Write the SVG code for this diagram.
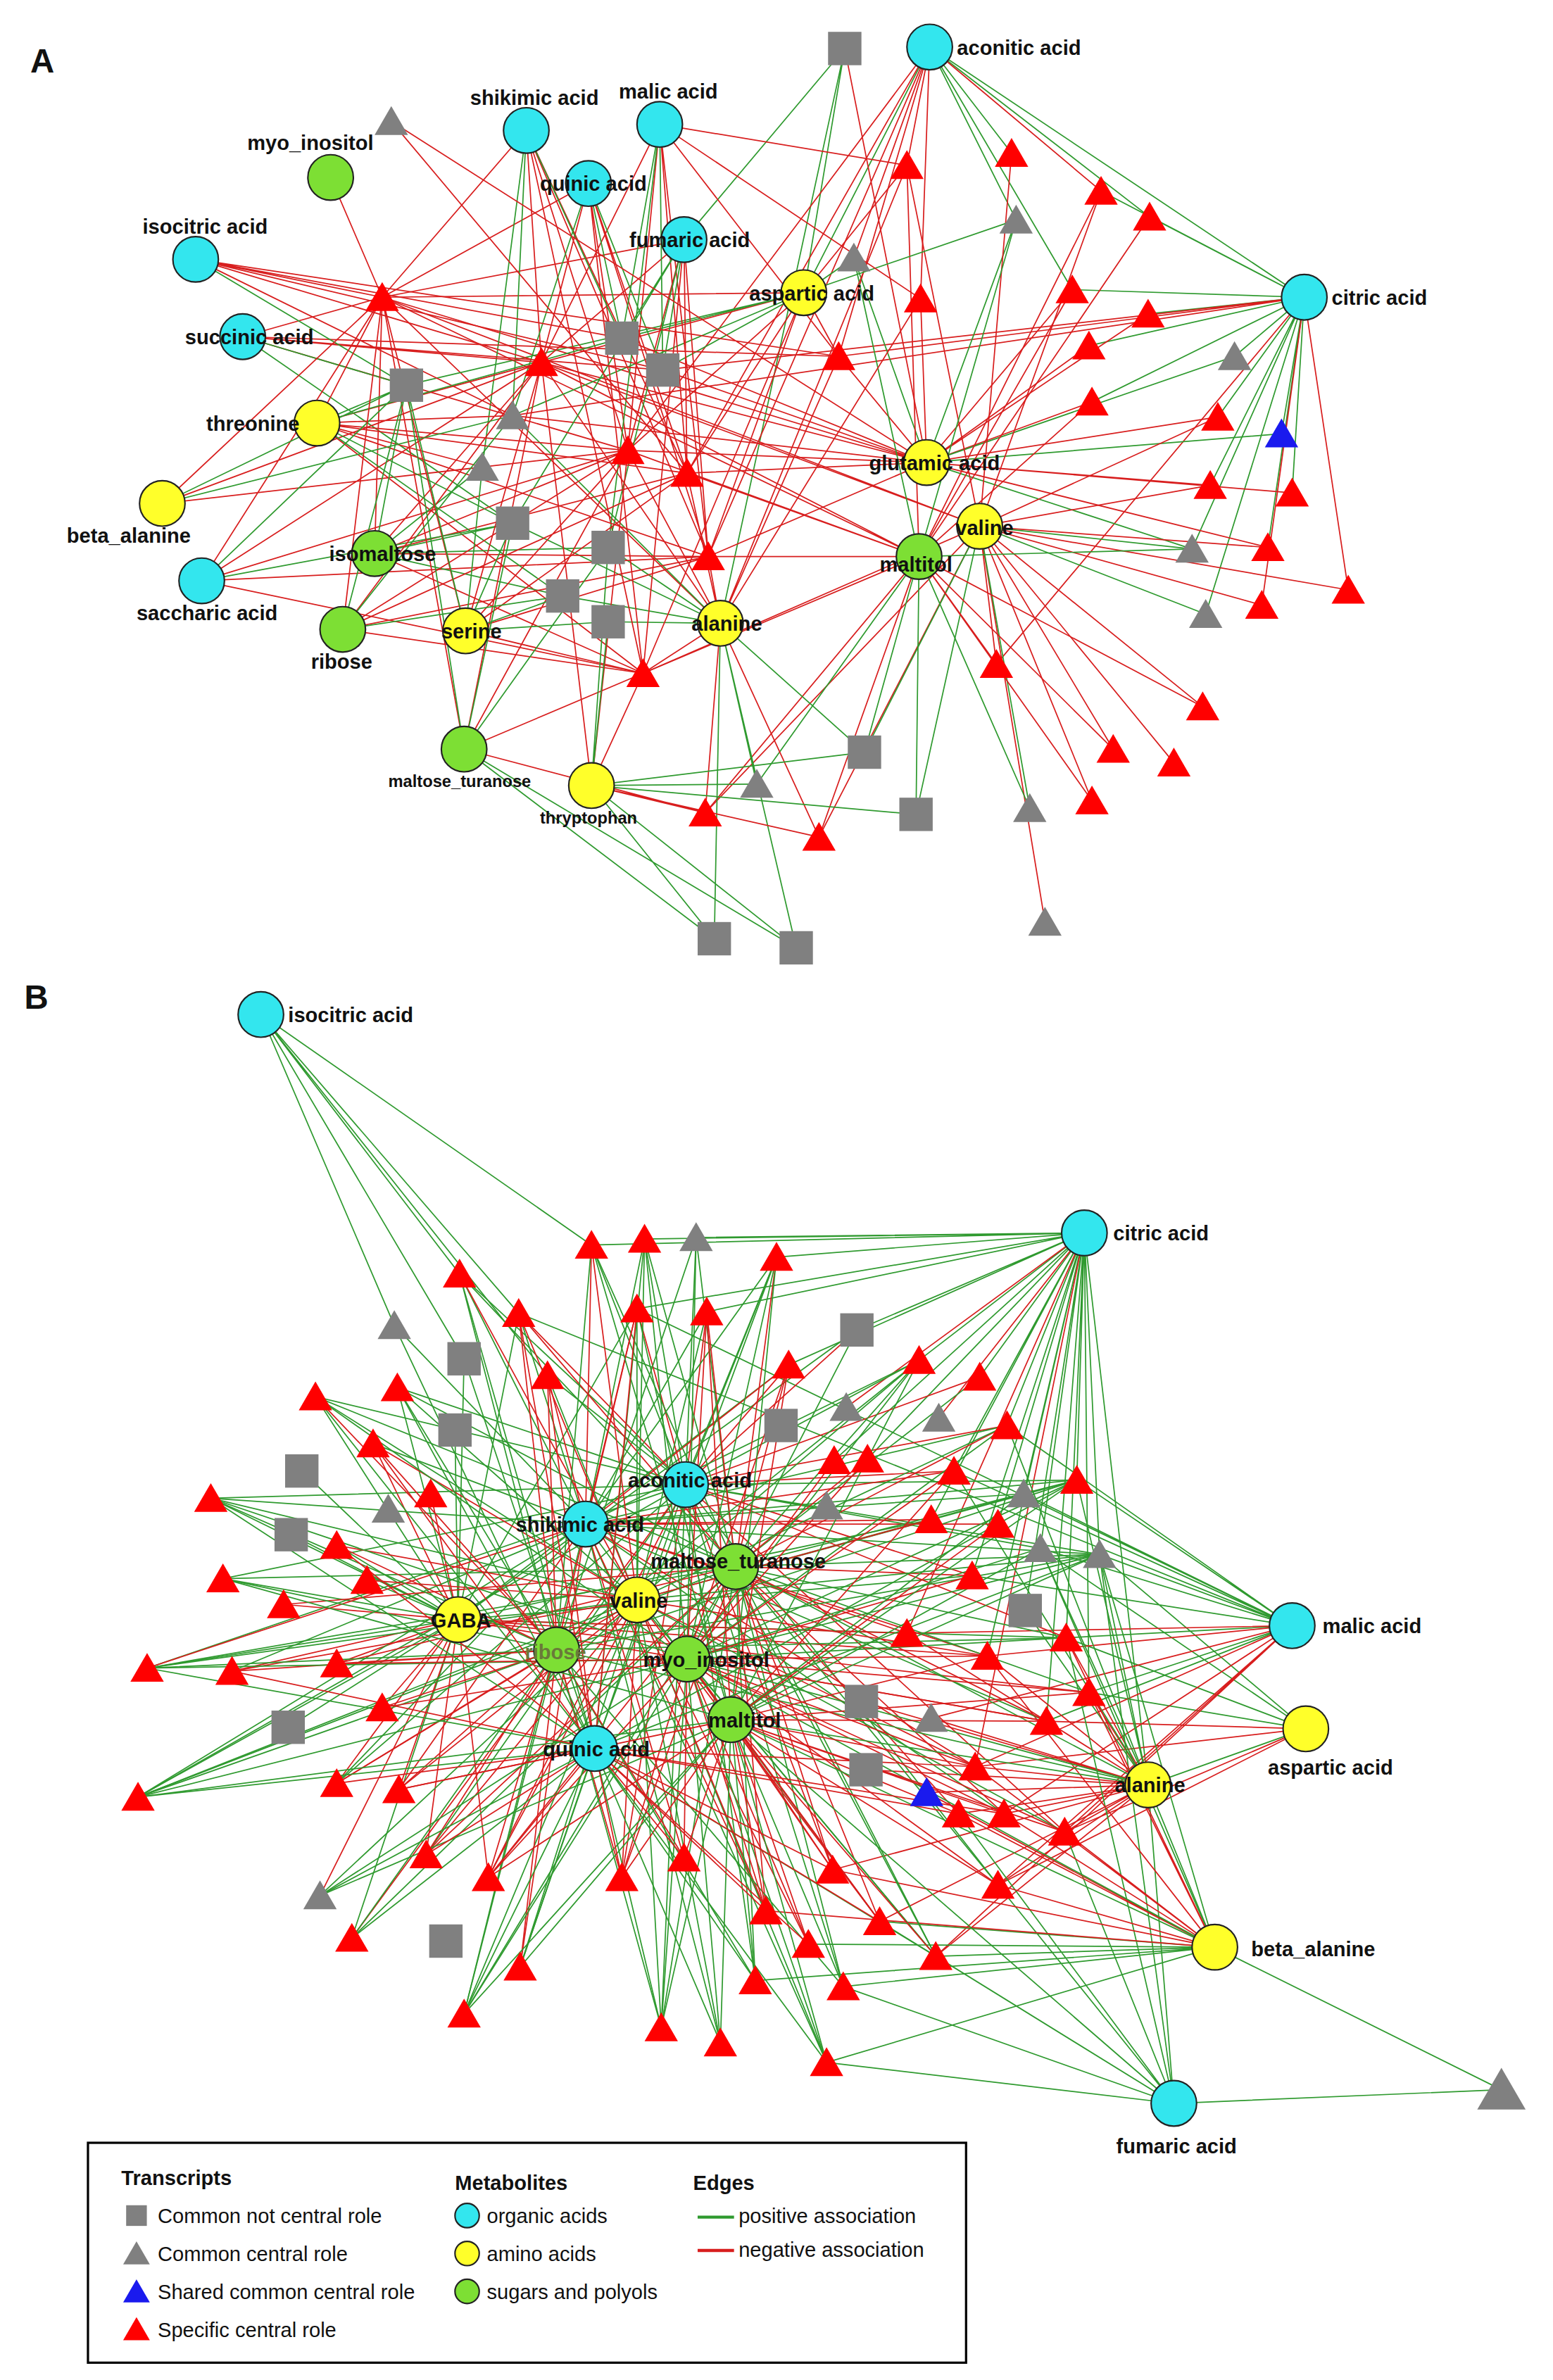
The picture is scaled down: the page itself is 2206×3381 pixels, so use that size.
<svg xmlns="http://www.w3.org/2000/svg" xmlns:xlink="http://www.w3.org/1999/xlink" width="2206" height="3381" viewBox="0 0 2206 3381">
<style>
.g{stroke:#2f9a2f;stroke-width:0.8;fill:none}
.r{stroke:#d81e1e;stroke-width:0.8;fill:none}
.tr{fill:#ff0000}.tg{fill:#808080}.tb{fill:#1a1aee}.sq{fill:#808080}
.oa{fill:#33e6ee;stroke:#222;stroke-width:1}.aa{fill:#ffff2a;stroke:#222;stroke-width:1}.sp{fill:#7ddf34;stroke:#222;stroke-width:1}
text{font-family:"Liberation Sans",Arial,sans-serif;font-weight:bold;font-size:13.5px;fill:#111}
.lg{font-weight:normal;font-size:13.5px}
.pl{font-size:22px}
</style>
<defs>
<path id="tri" d="M0 -10 L11 9 L-11 9Z"/>
<rect id="sqr" x="-11" y="-11" width="22" height="22"/>
</defs>
<rect width="2206" height="3381" fill="#fff"/>
<g transform="scale(2.1543)">
<text class="pl" x="20" y="48">A</text>
<text class="pl" x="16" y="665">B</text>
<g id="connectors">
<!-- Panel A -->
<path class="g" d="M860 196L814 235M860 196L845 286M860 196L852 325M860 196L798 320M860 196L836 361M860 196L786 362M860 196L795 405M860 196L803 275M860 196L757 207M860 196L707 191M860 196L726 126M860 196L718 228M860 196L720 265M860 196L613 31M860 196L758 143"/>
<path class="r" d="M860 196L889 389M860 196L832 399M860 196L338 274M860 196L437 244M860 196L553 235M860 196L657 438"/>
<path class="g" d="M613 31L667 101M613 31L758 143M613 31L670 145M613 31L530 193M613 31L707 191M557 32L451 158M557 32L530 193M557 32L475 411"/>
<path class="r" d="M613 31L598 109M613 31L726 126M613 31L563 170M613 31L553 235M613 31L607 197M613 31L467 367M613 31L414 297M613 31L453 312M557 32L611 305"/>
<path class="r" d="M611 305L720 265M611 305L803 275M611 305L798 320M611 305L852 325M611 305L836 361M611 305L718 228M611 305L757 207M611 305L707 191M611 305L607 197M611 305L553 235M611 305L414 297M611 305L453 312M611 305L467 367M611 305L338 274M611 305L437 244M611 305L410 223M611 305L252 196M611 305L357 239"/>
<path class="g" d="M611 305L786 362M611 305L814 235M611 305L845 286M611 305L670 145M611 305L563 170"/>
<path class="r" d="M646 347L889 389M646 347L832 399M646 347L836 361M646 347L798 320M646 347L803 275M646 347L793 466M646 347L774 503M646 347L734 494M646 347L720 528M646 347L657 438M646 347L540 552M646 347L465 536M646 347L424 444M646 347L357 239M646 347L252 196M646 347L598 109M646 347L667 101M646 347L726 126M646 347L689 608"/>
<path class="g" d="M646 347L786 362M646 347L795 405M646 347L679 533M646 347L570 496M646 347L604 537"/>
<path class="r" d="M606 367L598 109M606 367L726 126M606 367L758 143M606 367L707 191M606 367L720 265M606 367L793 466M606 367L734 494M606 367L720 528M606 367L657 438M606 367L540 552M606 367L465 536M606 367L414 297M606 367L453 312M606 367L467 367M606 367L357 239M606 367L252 196M606 367L424 444"/>
<path class="g" d="M606 367L499 517M606 367L570 496M606 367L604 537M606 367L679 533M606 367L563 170M606 367L670 145M606 367L786 362"/>
<path class="r" d="M475 411L357 239M475 411L414 297M475 411L453 312M475 411L467 367M475 411L424 444M475 411L465 536M475 411L540 552M475 411L252 196M475 411L598 109M475 411L607 197M475 411L553 235"/>
<path class="g" d="M475 411L401 361M475 411L401 410M475 411L371 393M475 411L338 345M475 411L338 274M475 411L471 619M475 411L525 625M475 411L499 517M475 411L570 496"/>
<path class="r" d="M530 193L414 297M530 193L453 312M530 193L467 367M530 193L357 239M530 193L252 196M530 193L598 109M530 193L553 235M530 193L424 444"/>
<path class="g" d="M530 193L437 244M530 193L410 223M530 193L338 274M530 193L670 145M530 193L563 170M530 193L268 254"/>
<path class="r" d="M451 158L357 239M451 158L414 297M451 158L453 312M451 158L252 196M451 158L467 367M451 158L424 444M388 121L357 239M388 121L414 297M388 121L453 312M388 121L467 367M388 121L252 196M388 121L424 444M347 86L357 239M347 86L414 297M347 86L453 312M347 86L467 367M347 86L424 444M347 86L252 196M435 82L357 239M435 82L414 297M435 82L453 312M435 82L467 367M435 82L598 109M435 82L607 197M435 82L553 235"/>
<path class="g" d="M451 158L437 244M451 158L410 223M451 158L338 345M451 158L401 361M388 121L410 223M388 121L437 244M388 121L338 274M347 86L410 223M347 86L338 274M347 86L318 308M435 82L437 244M435 82L410 223M435 82L401 361"/>
<path class="r" d="M218 117L252 196M258 80L453 312M258 80L611 305M129 171L252 196M129 171L357 239M129 171L410 223M129 171L437 244M129 171L553 235M129 171L338 274M160 222L357 239M160 222L414 297M160 222L553 235M160 222L437 244M160 222L252 196"/>
<path class="g" d="M129 171L268 254M160 222L268 254M160 222L338 345"/>
<path class="r" d="M209 279L252 196M209 279L357 239M209 279L414 297M209 279L453 312M209 279L467 367M209 279L424 444M209 279L318 308M209 279L338 274M107 332L252 196M107 332L357 239M107 332L414 297M107 332L318 308M247 365L252 196M247 365L357 239M247 365L414 297M247 365L453 312M247 365L467 367M247 365L424 444M133 383L252 196M133 383L357 239M133 383L414 297M133 383L467 367M133 383L424 444"/>
<path class="g" d="M209 279L268 254M209 279L338 345M209 279L371 393M209 279L410 223M107 332L268 254M107 332L338 274M247 365L268 254M247 365L338 345M247 365L371 393M247 365L401 361M247 365L318 308M133 383L268 254M133 383L338 345"/>
<path class="r" d="M226 415L252 196M226 415L357 239M226 415L414 297M226 415L453 312M226 415L467 367M226 415L424 444M307 416L357 239M307 416L414 297M307 416L453 312M307 416L467 367M307 416L424 444M307 416L252 196M306 494L357 239M306 494L414 297M306 494L252 196M306 494L424 444M306 494L465 536M390 518L465 536M390 518L540 552M390 518L424 444M390 518L414 297M390 518L357 239"/>
<path class="g" d="M226 415L268 254M226 415L371 393M226 415L338 274M307 416L338 345M307 416L371 393M307 416L401 410M307 416L268 254M307 416L318 308M306 494L338 345M306 494L268 254M306 494L401 361M306 494L471 619M306 494L525 625M390 518L401 410M390 518L401 361M390 518L471 619M390 518L525 625M390 518L499 517M390 518L604 537M390 518L570 496"/>
<!-- Panel B -->
<path class="g" d="M172 669L260 874M172 669L303 840M172 669L306 896M172 669L342 866M172 669L361 907M172 669L390 821"/>
<path class="g" d="M715 813L390 821M715 813L425 817M715 813L459 816M715 813L512 829M715 813L420 863M715 813L466 865M715 813L520 900M715 813L565 877M715 813L606 897M715 813L646 908M715 813L664 940M715 813L550 963M715 813L572 962M715 813L629 970M715 813L614 1002M715 813L658 1005M715 813L641 1039M715 813L676 1062M715 813L651 1092M715 813L703 1080M715 813L710 976M715 813L718 1116M715 813L690 1135M715 813L725 1025M715 813L686 1021M715 813L675 985M715 813L757 1177"/>
<path class="r" d="M715 813L598 1077M715 813L643 1165M715 813L619 935M715 813L558 928"/>
<path class="g" d="M852 1072L710 976M852 1072L725 1025M852 1072L686 1021M852 1072L675 985M852 1072L703 1080M852 1072L718 1116M852 1072L690 1135M852 1072L641 1039M852 1072L629 970M852 1072L664 940M852 1072L342 866M852 1072L420 863M861 1140L725 1025M861 1140L686 1021M861 1140L703 1080M861 1140L718 1116M861 1140L757 1177"/>
<path class="r" d="M852 1072L651 1092M852 1072L598 1077M852 1072L614 1133M852 1072L643 1165M852 1072L662 1196M852 1072L702 1208M852 1072L658 1243M852 1072L617 1290M861 1140L690 1135M861 1140L643 1165M861 1140L702 1208M861 1140L658 1243"/>
<path class="r" d="M757 1177L611 1182M757 1177L643 1165M757 1177L662 1196M757 1177L632 1196M757 1177L702 1208M757 1177L658 1243M757 1177L617 1290M757 1177L580 1267M757 1177L549 1233M757 1177L568 1122M757 1177L571 1167M757 1177L614 1133M757 1177L598 1077M757 1177L651 1092M757 1177L703 1080M757 1177L718 1116M757 1177L690 1135"/>
<path class="g" d="M757 1177L676 1062M757 1177L725 1025M757 1177L710 976M757 1177L686 1021M757 1177L664 940M757 1177L629 970M757 1177L801 1284"/>
<path class="g" d="M801 1284L990 1378M801 1284L545 1360M801 1284L556 1310M801 1284L498 1306M801 1284L617 1290M801 1284L580 1267M801 1284L533 1282M801 1284L725 1025M801 1284L686 1021M774 1387L990 1378M774 1387L545 1360M774 1387L617 1290M774 1387L556 1310M774 1387L580 1267M774 1387L658 1243M774 1387L702 1208M774 1387L725 1025M774 1387L757 1177M774 1387L703 1080M774 1387L632 1196"/>
<path class="r" d="M801 1284L658 1243M801 1284L702 1208M801 1284L662 1196M801 1284L632 1196M801 1284L643 1165M801 1284L611 1182M801 1284L549 1233M801 1284L505 1260M801 1284L718 1116M801 1284L703 1080M801 1284L651 1092"/>
<path class="g" d="M302 1068L139 988M302 1068L147 1041M302 1068L97 1100M302 1068L91 1185M302 1068L222 1019M302 1068L242 1042M302 1068L208 921M302 1068L262 915M302 1068L199 970M302 1068L192 1012M302 1068L190 1139M302 1068L232 1278M302 1068L300 943M302 1068L306 896M302 1068L342 866M302 1068L420 863M302 1068L520 900M302 1068L614 1002M302 1068L641 1039M302 1068L703 1080M302 1068L565 877"/>
<path class="r" d="M302 1068L153 1102M302 1068L187 1058M302 1068L222 1097M302 1068L252 1126M302 1068L222 1176M302 1068L263 1180M302 1068L246 952M302 1068L284 985M302 1068L211 1250M302 1068L281 1223M302 1068L322 1238M302 1068L598 1077M302 1068L651 1092M302 1068L718 1116M302 1068L690 1135"/>
<path class="g" d="M452 979L303 840M452 979L390 821M452 979L425 817M452 979L459 816M452 979L512 829M452 979L361 907M452 979L262 915M452 979L208 921M452 979L139 988M452 979L147 1041M452 979L97 1100M452 979L91 1185M452 979L222 1176M452 979L281 1223M452 979L343 1297M452 979L436 1337M452 979L498 1306M452 979L556 1310M452 979L617 1290M452 979L658 1243M452 979L710 976M452 979L725 1025M452 979L686 1021M452 979L606 897"/>
<path class="r" d="M452 979L342 866M452 979L420 863M452 979L466 865M452 979L520 900M452 979L565 877M452 979L646 908M452 979L664 940M452 979L629 970M452 979L641 1039M452 979L703 1080M452 979L702 1208M452 979L549 1233M452 979L410 1238M452 979L322 1238M452 979L232 1278"/>
<path class="g" d="M386 1005L260 874M386 1005L303 840M386 1005L342 866M386 1005L425 817M386 1005L466 865M386 1005L512 829M386 1005L606 897M386 1005L664 940M386 1005L710 976M386 1005L675 985M386 1005L725 1025M386 1005L153 1102M386 1005L91 1185M386 1005L222 1176M386 1005L306 1328M386 1005L475 1347M386 1005L545 1360M386 1005L580 1267M386 1005L690 1135M386 1005L662 1196M386 1005L246 952M386 1005L139 988"/>
<path class="r" d="M386 1005L390 821M386 1005L420 863M386 1005L361 907M386 1005L520 900M386 1005L629 970M386 1005L614 1002M386 1005L658 1005M386 1005L651 1092M386 1005L598 1077M386 1005L643 1165M386 1005L505 1260M386 1005L451 1225M386 1005L343 1297M386 1005L263 1180M386 1005L97 1100"/>
<path class="g" d="M485 1033L390 821M485 1033L459 816M485 1033L425 817M485 1033L303 840M485 1033L606 897M485 1033L646 908M485 1033L710 976M485 1033L725 1025M485 1033L703 1080M485 1033L718 1116M485 1033L757 1177M485 1033L658 1243M485 1033L617 1290M485 1033L556 1310M485 1033L498 1306M485 1033L436 1337M485 1033L306 1328M485 1033L232 1278M485 1033L91 1185M485 1033L97 1100M485 1033L147 1041M485 1033L208 921M485 1033L262 915"/>
<path class="r" d="M485 1033L342 866M485 1033L512 829M485 1033L466 865M485 1033L520 900M485 1033L572 962M485 1033L664 940M485 1033L641 1039M485 1033L690 1135M485 1033L662 1196M485 1033L632 1196M485 1033L580 1267M485 1033L549 1233M485 1033L505 1260M485 1033L410 1238M485 1033L322 1238M485 1033L281 1223M485 1033L222 1097M485 1033L187 1058"/>
<path class="g" d="M420 1055L420 863M420 1055L466 865M420 1055L425 817M420 1055L361 907M420 1055L262 915M420 1055L208 921M420 1055L139 988M420 1055L97 1100M420 1055L91 1185M420 1055L211 1250M420 1055L306 1328M420 1055L343 1297M420 1055L436 1337M420 1055L475 1347M420 1055L545 1360M420 1055L617 1290M420 1055L702 1208M420 1055L725 1025M420 1055L710 976M420 1055L675 985M420 1055L664 940M420 1055L606 897M420 1055L512 829"/>
<path class="r" d="M420 1055L390 821M420 1055L303 840M420 1055L342 866M420 1055L246 952M420 1055L222 1019M420 1055L242 1042M420 1055L153 1102M420 1055L222 1176M420 1055L263 1180M420 1055L281 1223M420 1055L322 1238M420 1055L410 1238M420 1055L505 1260M420 1055L533 1282M420 1055L580 1267M420 1055L643 1165M420 1055L651 1092M420 1055L614 1002"/>
<path class="g" d="M367 1088L303 840M367 1088L262 915M367 1088L139 988M367 1088L147 1041M367 1088L97 1100M367 1088L91 1185M367 1088L232 1278M367 1088L306 1328M367 1088L436 1337M367 1088L498 1306M367 1088L556 1310M367 1088L390 821M367 1088L459 816M367 1088L606 897M367 1088L710 976M367 1088L725 1025M367 1088L703 1080M367 1088L757 1177"/>
<path class="r" d="M367 1088L342 866M367 1088L361 907M367 1088L420 863M367 1088L208 921M367 1088L246 952M367 1088L222 1019M367 1088L153 1102M367 1088L222 1097M367 1088L252 1126M367 1088L222 1176M367 1088L263 1180M367 1088L281 1223M367 1088L322 1238M367 1088L343 1297M367 1088L410 1238M367 1088L451 1225"/>
<path class="g" d="M453 1094L425 817M453 1094L459 816M453 1094L512 829M453 1094L565 877M453 1094L606 897M453 1094L664 940M453 1094L710 976M453 1094L725 1025M453 1094L686 1021M453 1094L703 1080M453 1094L757 1177M453 1094L801 1284M453 1094L617 1290M453 1094L545 1360M453 1094L475 1347M453 1094L436 1337M453 1094L306 1328M453 1094L211 1250M453 1094L91 1185M453 1094L97 1100M453 1094L139 988M453 1094L208 921"/>
<path class="r" d="M453 1094L466 865M453 1094L520 900M453 1094L572 962M453 1094L550 963M453 1094L629 970M453 1094L641 1039M453 1094L651 1092M453 1094L690 1135M453 1094L718 1116M453 1094L643 1165M453 1094L662 1196M453 1094L702 1208M453 1094L658 1243M453 1094L580 1267M453 1094L549 1233M453 1094L533 1282M453 1094L505 1260M453 1094L451 1225M453 1094L410 1238M453 1094L322 1238M453 1094L252 1126M453 1094L222 1097"/>
<path class="g" d="M482 1134L390 821M482 1134L420 863M482 1134L512 829M482 1134L606 897M482 1134L710 976M482 1134L725 1025M482 1134L675 985M482 1134L686 1021M482 1134L757 1177M482 1134L801 1284M482 1134L774 1387M482 1134L545 1360M482 1134L556 1310M482 1134L498 1306M482 1134L475 1347M482 1134L436 1337M482 1134L343 1297M482 1134L306 1328M482 1134L211 1250M482 1134L91 1185M482 1134L147 1041"/>
<path class="r" d="M482 1134L466 865M482 1134L520 900M482 1134L629 970M482 1134L658 1005M482 1134L651 1092M482 1134L718 1116M482 1134L690 1135M482 1134L643 1165M482 1134L662 1196M482 1134L632 1196M482 1134L702 1208M482 1134L658 1243M482 1134L617 1290M482 1134L580 1267M482 1134L549 1233M482 1134L533 1282M482 1134L505 1260M482 1134L451 1225M482 1134L410 1238M482 1134L322 1238M482 1134L263 1180"/>
<path class="g" d="M392 1153L260 874M392 1153L303 840M392 1153L306 896M392 1153L262 915M392 1153L208 921M392 1153L139 988M392 1153L97 1100M392 1153L91 1185M392 1153L211 1250M392 1153L232 1278M392 1153L306 1328M392 1153L343 1297M392 1153L436 1337M392 1153L475 1347M392 1153L498 1306M392 1153L545 1360M392 1153L617 1290M392 1153L710 976M392 1153L725 1025M392 1153L512 829M392 1153L425 817"/>
<path class="r" d="M392 1153L342 866M392 1153L361 907M392 1153L420 863M392 1153L246 952M392 1153L222 1019M392 1153L153 1102M392 1153L222 1176M392 1153L263 1180M392 1153L281 1223M392 1153L322 1238M392 1153L410 1238M392 1153L451 1225M392 1153L505 1260M392 1153L533 1282M392 1153L549 1233M392 1153L580 1267M392 1153L632 1196M392 1153L662 1196M392 1153L643 1165"/>
</g>
<g id="transcripts-A">
<use href="#sqr" class="sq" x="557" y="32"/><use href="#sqr" class="sq" x="268" y="254"/><use href="#sqr" class="sq" x="410" y="223"/><use href="#sqr" class="sq" x="437" y="244"/><use href="#sqr" class="sq" x="338" y="345"/><use href="#sqr" class="sq" x="401" y="361"/><use href="#sqr" class="sq" x="371" y="393"/><use href="#sqr" class="sq" x="401" y="410"/><use href="#sqr" class="sq" x="570" y="496"/><use href="#sqr" class="sq" x="604" y="537"/><use href="#sqr" class="sq" x="471" y="619"/><use href="#sqr" class="sq" x="525" y="625"/>
<use href="#tri" class="tg" x="258" y="80"/><use href="#tri" class="tg" x="670" y="145"/><use href="#tri" class="tg" x="563" y="170"/><use href="#tri" class="tg" x="338" y="274"/><use href="#tri" class="tg" x="318" y="308"/><use href="#tri" class="tg" x="814" y="235"/><use href="#tri" class="tg" x="786" y="362"/><use href="#tri" class="tg" x="795" y="405"/><use href="#tri" class="tg" x="499" y="517"/><use href="#tri" class="tg" x="679" y="533"/><use href="#tri" class="tg" x="689" y="608"/>
<use href="#tri" class="tb" x="845" y="286"/>
<use href="#tri" class="tr" x="598" y="109"/><use href="#tri" class="tr" x="667" y="101"/><use href="#tri" class="tr" x="726" y="126"/><use href="#tri" class="tr" x="758" y="143"/><use href="#tri" class="tr" x="252" y="196"/><use href="#tri" class="tr" x="607" y="197"/><use href="#tri" class="tr" x="707" y="191"/><use href="#tri" class="tr" x="757" y="207"/><use href="#tri" class="tr" x="553" y="235"/><use href="#tri" class="tr" x="718" y="228"/><use href="#tri" class="tr" x="357" y="239"/><use href="#tri" class="tr" x="720" y="265"/><use href="#tri" class="tr" x="803" y="275"/><use href="#tri" class="tr" x="852" y="325"/><use href="#tri" class="tr" x="798" y="320"/><use href="#tri" class="tr" x="414" y="297"/><use href="#tri" class="tr" x="453" y="312"/><use href="#tri" class="tr" x="836" y="361"/><use href="#tri" class="tr" x="889" y="389"/><use href="#tri" class="tr" x="832" y="399"/><use href="#tri" class="tr" x="467" y="367"/><use href="#tri" class="tr" x="424" y="444"/><use href="#tri" class="tr" x="657" y="438"/><use href="#tri" class="tr" x="793" y="466"/><use href="#tri" class="tr" x="734" y="494"/><use href="#tri" class="tr" x="774" y="503"/><use href="#tri" class="tr" x="720" y="528"/><use href="#tri" class="tr" x="465" y="536"/><use href="#tri" class="tr" x="540" y="552"/>
</g>
<g id="transcripts-B">
<use href="#sqr" class="sq" x="306" y="896"/><use href="#sqr" class="sq" x="565" y="877"/><use href="#sqr" class="sq" x="300" y="943"/><use href="#sqr" class="sq" x="515" y="940"/><use href="#sqr" class="sq" x="199" y="970"/><use href="#sqr" class="sq" x="192" y="1012"/><use href="#sqr" class="sq" x="676" y="1062"/><use href="#sqr" class="sq" x="568" y="1122"/><use href="#sqr" class="sq" x="190" y="1139"/><use href="#sqr" class="sq" x="571" y="1167"/><use href="#sqr" class="sq" x="294" y="1280"/>
<use href="#tri" class="tg" x="459" y="816"/><use href="#tri" class="tg" x="260" y="874"/><use href="#tri" class="tg" x="256" y="995"/><use href="#tri" class="tg" x="558" y="928"/><use href="#tri" class="tg" x="619" y="935"/><use href="#tri" class="tg" x="545" y="993"/><use href="#tri" class="tg" x="675" y="985"/><use href="#tri" class="tg" x="686" y="1021"/><use href="#tri" class="tg" x="725" y="1025"/><use href="#tri" class="tg" x="614" y="1133"/><use href="#tri" class="tg" x="211" y="1250"/>
<g transform="translate(990 1378) scale(1.45)"><use href="#tri" class="tg"/></g>
<use href="#tri" class="tb" x="611" y="1182"/>
<use href="#tri" class="tr" x="390" y="821"/><use href="#tri" class="tr" x="425" y="817"/><use href="#tri" class="tr" x="512" y="829"/><use href="#tri" class="tr" x="303" y="840"/><use href="#tri" class="tr" x="342" y="866"/><use href="#tri" class="tr" x="420" y="863"/><use href="#tri" class="tr" x="466" y="865"/><use href="#tri" class="tr" x="361" y="907"/><use href="#tri" class="tr" x="262" y="915"/><use href="#tri" class="tr" x="208" y="921"/><use href="#tri" class="tr" x="520" y="900"/><use href="#tri" class="tr" x="606" y="897"/><use href="#tri" class="tr" x="646" y="908"/><use href="#tri" class="tr" x="246" y="952"/><use href="#tri" class="tr" x="664" y="940"/><use href="#tri" class="tr" x="550" y="963"/><use href="#tri" class="tr" x="572" y="962"/><use href="#tri" class="tr" x="710" y="976"/><use href="#tri" class="tr" x="629" y="970"/><use href="#tri" class="tr" x="139" y="988"/><use href="#tri" class="tr" x="284" y="985"/><use href="#tri" class="tr" x="614" y="1002"/><use href="#tri" class="tr" x="658" y="1005"/><use href="#tri" class="tr" x="222" y="1019"/><use href="#tri" class="tr" x="147" y="1041"/><use href="#tri" class="tr" x="242" y="1042"/><use href="#tri" class="tr" x="641" y="1039"/><use href="#tri" class="tr" x="187" y="1058"/><use href="#tri" class="tr" x="97" y="1100"/><use href="#tri" class="tr" x="153" y="1102"/><use href="#tri" class="tr" x="222" y="1097"/><use href="#tri" class="tr" x="598" y="1077"/><use href="#tri" class="tr" x="651" y="1092"/><use href="#tri" class="tr" x="703" y="1080"/><use href="#tri" class="tr" x="252" y="1126"/><use href="#tri" class="tr" x="718" y="1116"/><use href="#tri" class="tr" x="690" y="1135"/><use href="#tri" class="tr" x="91" y="1185"/><use href="#tri" class="tr" x="222" y="1176"/><use href="#tri" class="tr" x="263" y="1180"/><use href="#tri" class="tr" x="643" y="1165"/><use href="#tri" class="tr" x="662" y="1196"/><use href="#tri" class="tr" x="632" y="1196"/><use href="#tri" class="tr" x="702" y="1208"/><use href="#tri" class="tr" x="658" y="1243"/><use href="#tri" class="tr" x="281" y="1223"/><use href="#tri" class="tr" x="322" y="1238"/><use href="#tri" class="tr" x="410" y="1238"/><use href="#tri" class="tr" x="451" y="1225"/><use href="#tri" class="tr" x="505" y="1260"/><use href="#tri" class="tr" x="549" y="1233"/><use href="#tri" class="tr" x="580" y="1267"/><use href="#tri" class="tr" x="617" y="1290"/><use href="#tri" class="tr" x="533" y="1282"/><use href="#tri" class="tr" x="232" y="1278"/><use href="#tri" class="tr" x="343" y="1297"/><use href="#tri" class="tr" x="306" y="1328"/><use href="#tri" class="tr" x="436" y="1337"/><use href="#tri" class="tr" x="475" y="1347"/><use href="#tri" class="tr" x="498" y="1306"/><use href="#tri" class="tr" x="556" y="1310"/><use href="#tri" class="tr" x="545" y="1360"/>
</g>
<!-- Metabolites A -->
<g id="A-aconitic"><circle class="oa" cx="613" cy="31" r="15"/><text x="631" y="36">aconitic acid</text></g>
<g id="A-shikimic"><circle class="oa" cx="347" cy="86" r="15"/><text x="310" y="69">shikimic acid</text></g>
<g id="A-malic"><circle class="oa" cx="435" cy="82" r="15"/><text x="408" y="65">malic acid</text></g>
<g id="A-quinic"><circle class="oa" cx="388" cy="121" r="15"/><text x="356" y="126">quinic acid</text></g>
<g id="A-myo"><circle class="sp" cx="218" cy="117" r="15"/><text x="163" y="99">myo_inositol</text></g>
<g id="A-isocitric"><circle class="oa" cx="129" cy="171" r="15"/><text x="94" y="154">isocitric acid</text></g>
<g id="A-fumaric"><circle class="oa" cx="451" cy="158" r="15"/><text x="415" y="163">fumaric acid</text></g>
<g id="A-aspartic"><circle class="aa" cx="530" cy="193" r="15"/><text x="494" y="198">aspartic acid</text></g>
<g id="A-citric"><circle class="oa" cx="860" cy="196" r="15"/><text x="878" y="201">citric acid</text></g>
<g id="A-succinic"><circle class="oa" cx="160" cy="222" r="15"/><text x="122" y="227">succinic acid</text></g>
<g id="A-threonine"><circle class="aa" cx="209" cy="279" r="15"/><text x="136" y="284">threonine</text></g>
<g id="A-glutamic"><circle class="aa" cx="611" cy="305" r="15"/><text x="573" y="310">glutamic acid</text></g>
<g id="A-beta"><circle class="aa" cx="107" cy="332" r="15"/><text x="44" y="358">beta_alanine</text></g>
<g id="A-maltitol"><circle class="sp" cx="606" cy="367" r="15"/><text x="580" y="377">maltitol</text></g>
<g id="A-valine"><circle class="aa" cx="646" cy="347" r="15"/><text x="630" y="353">valine</text></g>
<g id="A-isomaltose"><circle class="sp" cx="247" cy="365" r="15"/><text x="217" y="370">isomaltose</text></g>
<g id="A-saccharic"><circle class="oa" cx="133" cy="383" r="15"/><text x="90" y="409">saccharic acid</text></g>
<g id="A-ribose"><circle class="sp" cx="226" cy="415" r="15"/><text x="205" y="441">ribose</text></g>
<g id="A-serine"><circle class="aa" cx="307" cy="416" r="15"/><text x="291" y="421">serine</text></g>
<g id="A-alanine"><circle class="aa" cx="475" cy="411" r="15"/><text x="456" y="416">alanine</text></g>
<g id="A-maltose"><circle class="sp" cx="306" cy="494" r="15"/><text x="256" y="519" style="font-size:11px">maltose_turanose</text></g>
<g id="A-tryptophan"><circle class="aa" cx="390" cy="518" r="15"/><text x="356" y="543" style="font-size:11px">thryptophan</text></g>
<!-- Metabolites B -->
<g id="B-isocitric"><circle class="oa" cx="172" cy="669" r="15"/><text x="190" y="674">isocitric acid</text></g>
<g id="B-citric"><circle class="oa" cx="715" cy="813" r="15"/><text x="734" y="818">citric acid</text></g>
<g id="B-aconitic"><circle class="oa" cx="452" cy="979" r="15"/><text x="414" y="981">aconitic acid</text></g>
<g id="B-shikimic"><circle class="oa" cx="386" cy="1005" r="15"/><text x="340" y="1010">shikimic acid</text></g>
<g id="B-maltose"><circle class="sp" cx="485" cy="1033" r="15"/><text x="429" y="1034">maltose_turanose</text></g>
<g id="B-GABA"><circle class="aa" cx="302" cy="1068" r="15"/><text x="284" y="1073">GABA</text></g>
<g id="B-valine"><circle class="aa" cx="420" cy="1055" r="15"/><text x="402" y="1060">valine</text></g>
<g id="B-malic"><circle class="oa" cx="852" cy="1072" r="15"/><text x="872" y="1077">malic acid</text></g>
<g id="B-ribose"><circle class="sp" cx="367" cy="1088" r="15"/><text x="346" y="1094" style="fill:#6a7a3a">ribose</text></g>
<g id="B-myo"><circle class="sp" cx="453" cy="1094" r="15"/><text x="424" y="1099">myo_inositol</text></g>
<g id="B-maltitol"><circle class="sp" cx="482" cy="1134" r="15"/><text x="467" y="1139">maltitol</text></g>
<g id="B-aspartic"><circle class="aa" cx="861" cy="1140" r="15"/><text x="836" y="1170">aspartic acid</text></g>
<g id="B-quinic"><circle class="oa" cx="392" cy="1153" r="15"/><text x="358" y="1158">quinic acid</text></g>
<g id="B-alanine"><circle class="aa" cx="757" cy="1177" r="15"/><text x="735" y="1182">alanine</text></g>
<g id="B-beta"><circle class="aa" cx="801" cy="1284" r="15"/><text x="825" y="1290">beta_alanine</text></g>
<g id="B-fumaric"><circle class="oa" cx="774" cy="1387" r="15"/><text x="736" y="1420">fumaric acid</text></g>
<!-- Legend -->
<g id="legend">
<rect x="58" y="1413" width="579" height="145" fill="#fff" stroke="#000" stroke-width="1.5"/>
<text x="80" y="1441">Transcripts</text>
<use href="#sqr" class="sq" transform="translate(90 1461) scale(0.62)"/><text class="lg" x="104" y="1466">Common not central role</text>
<use href="#tri" class="tg" transform="translate(90 1486) scale(0.8)"/><text class="lg" x="104" y="1491">Common central role</text>
<use href="#tri" class="tb" transform="translate(90 1511) scale(0.8)"/><text class="lg" x="104" y="1516">Shared common central role</text>
<use href="#tri" class="tr" transform="translate(90 1536) scale(0.8)"/><text class="lg" x="104" y="1541">Specific central role</text>
<text x="300" y="1444">Metabolites</text>
<circle class="oa" cx="308" cy="1461" r="8"/><text class="lg" x="321" y="1466">organic acids</text>
<circle class="aa" cx="308" cy="1486" r="8"/><text class="lg" x="321" y="1491">amino acids</text>
<circle class="sp" cx="308" cy="1511" r="8"/><text class="lg" x="321" y="1516">sugars and polyols</text>
<text x="457" y="1444">Edges</text>
<line x1="460" y1="1462" x2="484" y2="1462" stroke="#2f9a2f" stroke-width="2"/><text class="lg" x="487" y="1466">positive association</text>
<line x1="460" y1="1484" x2="484" y2="1484" stroke="#d81e1e" stroke-width="2"/><text class="lg" x="487" y="1488">negative association</text>
</g>
</g>
</svg>
